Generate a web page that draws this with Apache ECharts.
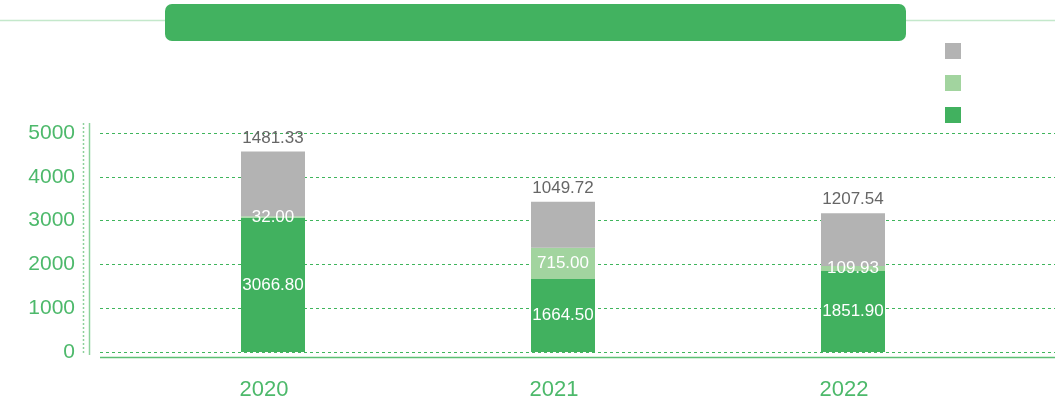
<!DOCTYPE html>
<html>
<head>
<meta charset="utf-8">
<script src="https://cdn.jsdelivr.net/npm/echarts@6/dist/echarts.min.js"></script>
<style>html,body{margin:0;padding:0;background:#fff}#c{width:1055px;height:405px}</style>
</head>
<body>
<div id="c"></div>
<script>
const categories = ['2020', '2021', '2022'];
const seriesNames = ['Series 1', 'Series 2', 'Series 3'];
const greenValues = [3066.80, 1664.50, 1851.90];
const lightGreenValues = [32.00, 715.00, 109.93];
const grayValues = [1481.33, 1049.72, 1207.54];
const yTicks = [0, 1000, 2000, 3000, 4000, 5000];

const GREEN = '#41B15F', LIGHT = '#A2D49F', GRAY = '#B3B3B3', AXIS = '#4DB96B';
const FONT = 'Liberation Sans';

const chart = echarts.init(document.getElementById('c'), null, {renderer: 'canvas'});
const insideLabel = {show: true, position: 'inside', color: '#fff', fontSize: 17, fontFamily: FONT,
  formatter: p => p.value.toFixed(2)};
chart.setOption({
  animation: false,
  textStyle: {fontFamily: FONT},
  graphic: [
    {type: 'line', shape: {x1: 0, y1: 20.5, x2: 1055, y2: 20.5}, style: {stroke: '#C4E8CB', lineWidth: 1.5}, z: 1},
    {type: 'rect', shape: {x: 165, y: 4, width: 741, height: 37, r: 7}, style: {fill: '#42B260'}, z: 2},
    {type: 'line', shape: {x1: 83.5, y1: 123, x2: 83.5, y2: 355}, style: {stroke: '#8ED19C', lineWidth: 1.5, lineDash: [2, 2]}},
    {type: 'line', shape: {x1: 89.5, y1: 123, x2: 89.5, y2: 355}, style: {stroke: '#8ED19C', lineWidth: 1.5}},
    {type: 'line', shape: {x1: 100, y1: 357.5, x2: 1055, y2: 357.5}, style: {stroke: '#5CBF73', lineWidth: 1.5}}
  ],
  legend: {
    orient: 'vertical', left: 940, top: 38, itemWidth: 16, itemHeight: 16, itemGap: 16,
    data: [seriesNames[2], seriesNames[1], seriesNames[0]],
    formatter: () => '', selectedMode: false, icon: 'rect'
  },
  grid: [
    {left: 100, right: 0, top: 133, bottom: 53},
    {left: 128, right: 57, top: 133, bottom: 53}
  ],
  xAxis: [
    {gridIndex: 0, type: 'value', min: 0, max: 1, show: false},
    {gridIndex: 1, type: 'category', data: categories,
      axisLine: {show: false}, axisTick: {show: false},
      axisLabel: {color: AXIS, fontSize: 22, margin: 27, fontFamily: FONT, padding: [0, 18, 0, 0]}}
  ],
  yAxis: [
    {gridIndex: 0, type: 'value', min: yTicks[0], max: yTicks[yTicks.length - 1], interval: 1000,
      axisLine: {show: false}, axisTick: {show: false},
      axisLabel: {color: AXIS, fontSize: 21, margin: 25, fontFamily: FONT, formatter: v => String(v)},
      splitLine: {lineStyle: {color: '#3FB55C', type: [3, 3], width: 1}}},
    {gridIndex: 1, type: 'value', min: yTicks[0], max: yTicks[yTicks.length - 1], interval: 1000,
      show: false, splitLine: {show: false}}
  ],
  series: [
    {name: seriesNames[0], type: 'bar', stack: 's', xAxisIndex: 1, yAxisIndex: 1, barWidth: 64,
      data: greenValues, itemStyle: {color: GREEN}, label: insideLabel},
    {name: seriesNames[1], type: 'bar', stack: 's', xAxisIndex: 1, yAxisIndex: 1, barWidth: 64,
      data: lightGreenValues, itemStyle: {color: LIGHT}, label: insideLabel},
    {name: seriesNames[2], type: 'bar', stack: 's', xAxisIndex: 1, yAxisIndex: 1, barWidth: 64,
      data: grayValues, itemStyle: {color: GRAY},
      label: {show: true, position: 'top', distance: 5, color: '#666', fontSize: 17, fontFamily: FONT,
        formatter: p => p.value.toFixed(2)}}
  ]
});
</script>
</body>
</html>
